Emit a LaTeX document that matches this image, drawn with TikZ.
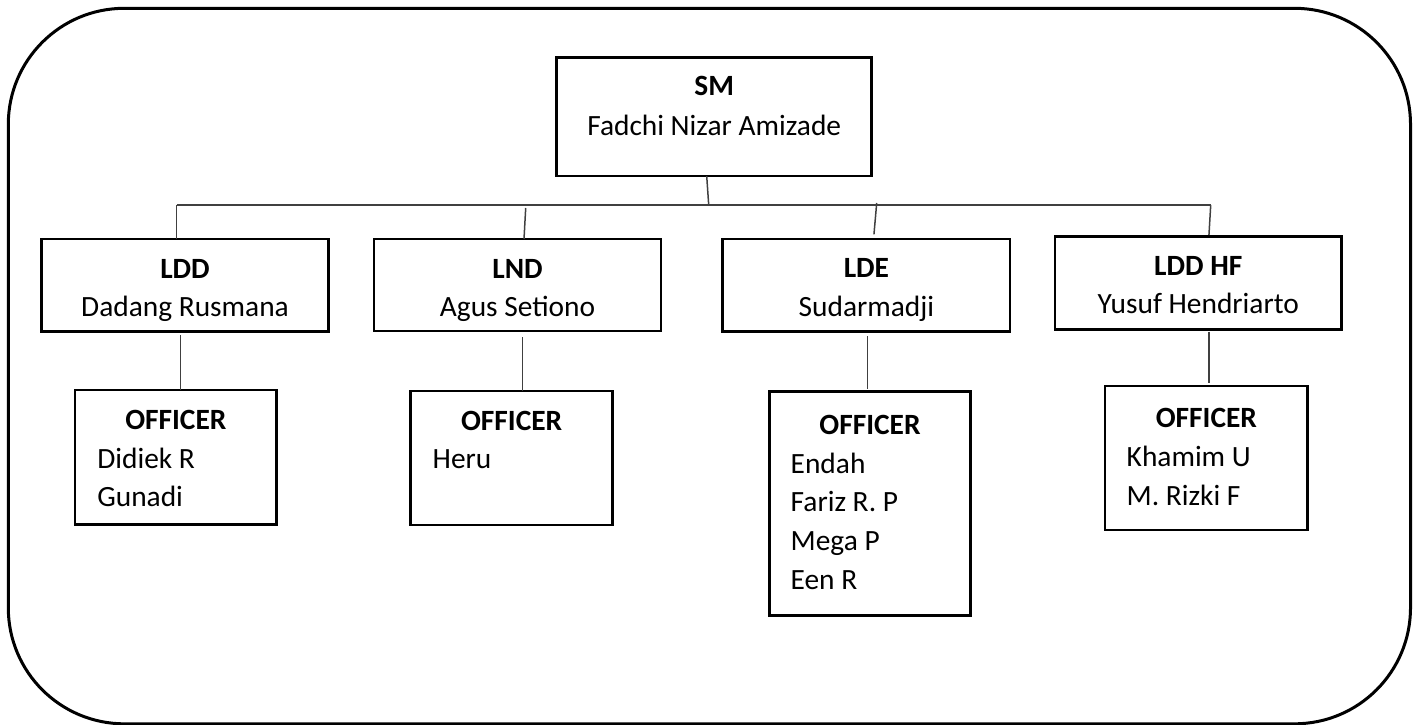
\documentclass[tikz,border=0pt]{standalone}
\usepackage{fontspec}
\setmainfont{Carlito}
\begin{document}
\begin{tikzpicture}[x=0.5pt,y=-0.5pt,
  boxst/.style={draw=black, line width=1.4pt, anchor=north west, inner sep=0pt, outer sep=0pt},
  conn/.style={draw=black!75, line width=0.75pt},
  txt/.style={inner sep=0pt, outer sep=0pt, font=\fontsize{14.7pt}{17.6pt}\selectfont},
  btxt/.style={txt, anchor=base, font=\fontsize{14.7pt}{17.6pt}\selectfont\bfseries},
  ctxt/.style={txt, anchor=base},
  ltxt/.style={txt, anchor=base west}]
\useasboundingbox (0,0) rectangle (1418,724);
% outer frame
\draw[line width=1.5pt, rounded corners=58pt] (8.3,8.3) rectangle (1410.5,723.8);

% boxes
\node[boxst, minimum width=157.5pt, minimum height=59.35pt] (sm) at (556.7,57.3) {};
\node[boxst, minimum width=143.3pt, minimum height=46.35pt] (ldd) at (41.7,239) {};
\node[boxst, minimum width=143.5pt, minimum height=46pt] (lnd) at (374,239) {};
\node[boxst, minimum width=143.65pt, minimum height=46.35pt] (lde) at (722.7,239) {};
\node[boxst, minimum width=143.35pt, minimum height=46.3pt] (ldh) at (1055,236.7) {};
\node[boxst, minimum width=100.85pt, minimum height=67.15pt] (of1) at (75,390) {};
\node[boxst, minimum width=101pt, minimum height=67pt] (of2) at (410.7,391) {};
\node[boxst, minimum width=100.7pt, minimum height=112pt] (of3) at (769.3,391.7) {};
\node[boxst, minimum width=101.35pt, minimum height=72pt] (of4) at (1105,386) {};

% texts
\node[btxt] (smt) at (714.2,95) {SM};
\node[ctxt] (smn) at (714.2,135) {Fadchi Nizar Amizade};
\node[btxt] (lddt) at (185,278) {LDD};
\node[ctxt] (lddn) at (185,316) {Dadang Rusmana};
\node[btxt] (lndt) at (517.5,278) {LND};
\node[ctxt] (lndn) at (517.5,316) {Agus Setiono};
\node[btxt] (ldet) at (866.4,277.3) {LDE};
\node[ctxt] (lden) at (866.4,316) {Sudarmadji};
\node[btxt] (ldht) at (1198.3,275) {LDD HF};
\node[ctxt] (ldhn) at (1198.3,313.3) {Yusuf Hendriarto};

\node[btxt] (of1t) at (175.85,429) {OFFICER};
\node[ltxt] (of1a) at (97.3,468) {Didiek R};
\node[ltxt] (of1b) at (97.3,506) {Gunadi};
\node[btxt] (of2t) at (511.7,430.7) {OFFICER};
\node[ltxt] (of2a) at (432.7,468) {Heru};
\node[btxt] (of3t) at (870,434) {OFFICER};
\node[ltxt] (of3a) at (790.7,473) {Endah};
\node[ltxt] (of3b) at (790.7,511.7) {Fariz R. P};
\node[ltxt] (of3c) at (790.7,550.5) {Mega P};
\node[ltxt] (of3d) at (790.7,589) {Een R};
\node[btxt] (of4t) at (1206.4,427.3) {OFFICER};
\node[ltxt] (of4a) at (1126.7,466.7) {Khamim U};
\node[ltxt] (of4b) at (1126.7,505) {M. Rizki F};

% connectors
\coordinate (busL) at (176.7,205);
\coordinate (busR) at (1210.7,205);
\coordinate (smj) at (708.7,205);
\coordinate (lndj) at (525.7,208);
\coordinate (ldej) at (876.7,203);
\draw[conn] (busL) -- (busR);
\draw[conn] (busL) -- (busL |- ldd.north);
\draw[conn] ([xshift=-3.75pt]sm.south) -- (smj);
\draw[conn] (lndj) -- ([xshift=3.25pt]lnd.north);
\draw[conn] (ldej) -- ([xshift=3.8pt,yshift=2.35pt]lde.north);
\draw[conn] (busR) -- ([xshift=5.3pt,yshift=0.85pt]ldh.north);

\draw[conn] ([xshift=-2.15pt,yshift=-1.65pt]ldd.south) coordinate (c1) -- (c1 |- of1.north);
\draw[conn] ([xshift=2.4pt,yshift=-3pt]lnd.south) coordinate (c2) -- (c2 |- of2.north);
\draw[conn] ([xshift=0.65pt,yshift=-2.15pt]lde.south) coordinate (c3) -- ([yshift=1.5pt]c3 |- of3.north);
\draw[conn] ([xshift=5.3pt,yshift=-1.2pt]ldh.south) coordinate (c4) -- ([yshift=1.5pt]c4 |- of4.north);
\end{tikzpicture}
\end{document}
